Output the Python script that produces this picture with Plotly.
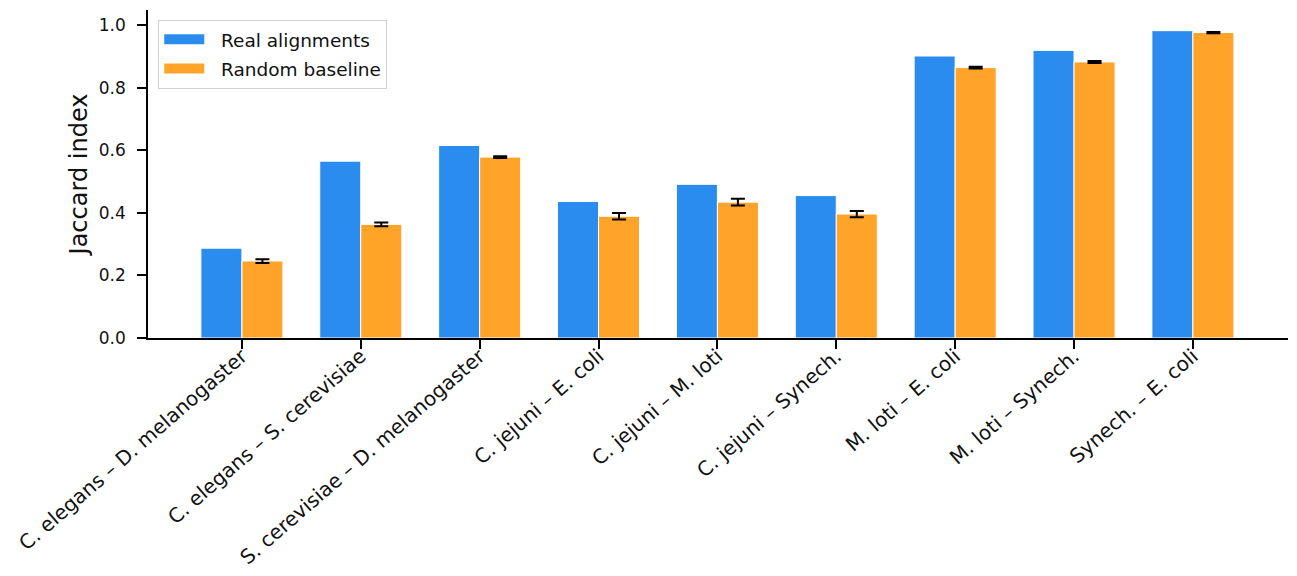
import plotly.graph_objects as go

categories = [
    "C. elegans – D. melanogaster",
    "C. elegans – S. cerevisiae",
    "S. cerevisiae – D. melanogaster",
    "C. jejuni – E. coli",
    "C. jejuni – M. loti",
    "C. jejuni – Synech.",
    "M. loti – E. coli",
    "M. loti – Synech.",
    "Synech. – E. coli",
]
real_values = [0.287, 0.565, 0.615, 0.436, 0.491, 0.455, 0.901, 0.919, 0.982]
random_values = [0.246, 0.363, 0.578, 0.389, 0.434, 0.396, 0.864, 0.882, 0.976]
random_errors = [0.006, 0.006, 0.003, 0.010, 0.011, 0.010, 0.003, 0.003, 0.002]
y_ticks = [0.0, 0.2, 0.4, 0.6, 0.8, 1.0]

blue = "#2b8cef"
orange = "#ffa329"

fig = go.Figure()
fig.add_trace(go.Bar(
    x=categories, y=real_values, name="Real alignments", showlegend=False,
    marker=dict(color=blue, line=dict(color="white", width=1)),
))
fig.add_trace(go.Bar(
    x=categories, y=random_values, name="Random baseline", showlegend=False,
    marker=dict(color=orange, line=dict(color="white", width=1)),
    error_y=dict(type="data", array=random_errors, color="black",
                 thickness=2, width=7),
))
# legend entries drawn as wide colour patches
for name, col, grp in [("Real alignments", blue, "a"), ("Random baseline", orange, "b")]:
    fig.add_trace(go.Scatter(
        x=[None], y=[None], mode="lines", name="\u00a0\u00a0" + name, legendgroup=grp,
        line=dict(color=col, width=13), hoverinfo="skip",
    ))

font_family = "DejaVu Sans, sans-serif"
fig.update_layout(
    width=1289, height=568,
    margin=dict(l=140, r=9, t=2, b=238, autoexpand=False),
    paper_bgcolor="white", plot_bgcolor="white",
    barmode="group", bargap=0.31, bargroupgap=0.0,
    font=dict(family=font_family, size=17, color="#111"),
    legend=dict(
        x=0.009, y=0.97, xanchor="left", yanchor="top",
        bordercolor="#d0d0d0", borderwidth=1, bgcolor="rgba(255,255,255,0.8)",
        font=dict(size=18.5, color="#111"), itemwidth=40,
        tracegroupgap=2,
    ),
    xaxis=dict(
        type="category", range=[-0.79, 8.8], automargin=False,
        showline=True, linecolor="black", linewidth=1.5,
        ticks="outside", ticklen=9, tickwidth=1.5, tickcolor="black",
        tickangle=-41, tickfont=dict(size=20), ticklabelstandoff=-12,
        showgrid=False, zeroline=False,
    ),
    yaxis=dict(
        range=[0, 1.048], automargin=False,
        tickvals=y_ticks, tickformat=".1f",
        showline=True, linecolor="black", linewidth=1.5,
        ticks="outside", ticklen=9, tickwidth=1.5, tickcolor="black",
        tickfont=dict(size=17), ticklabelstandoff=8,
        title=dict(text="Jaccard index", font=dict(size=24), standoff=4),
        showgrid=False, zeroline=False,
    ),
)

fig.write_html("out.html")
